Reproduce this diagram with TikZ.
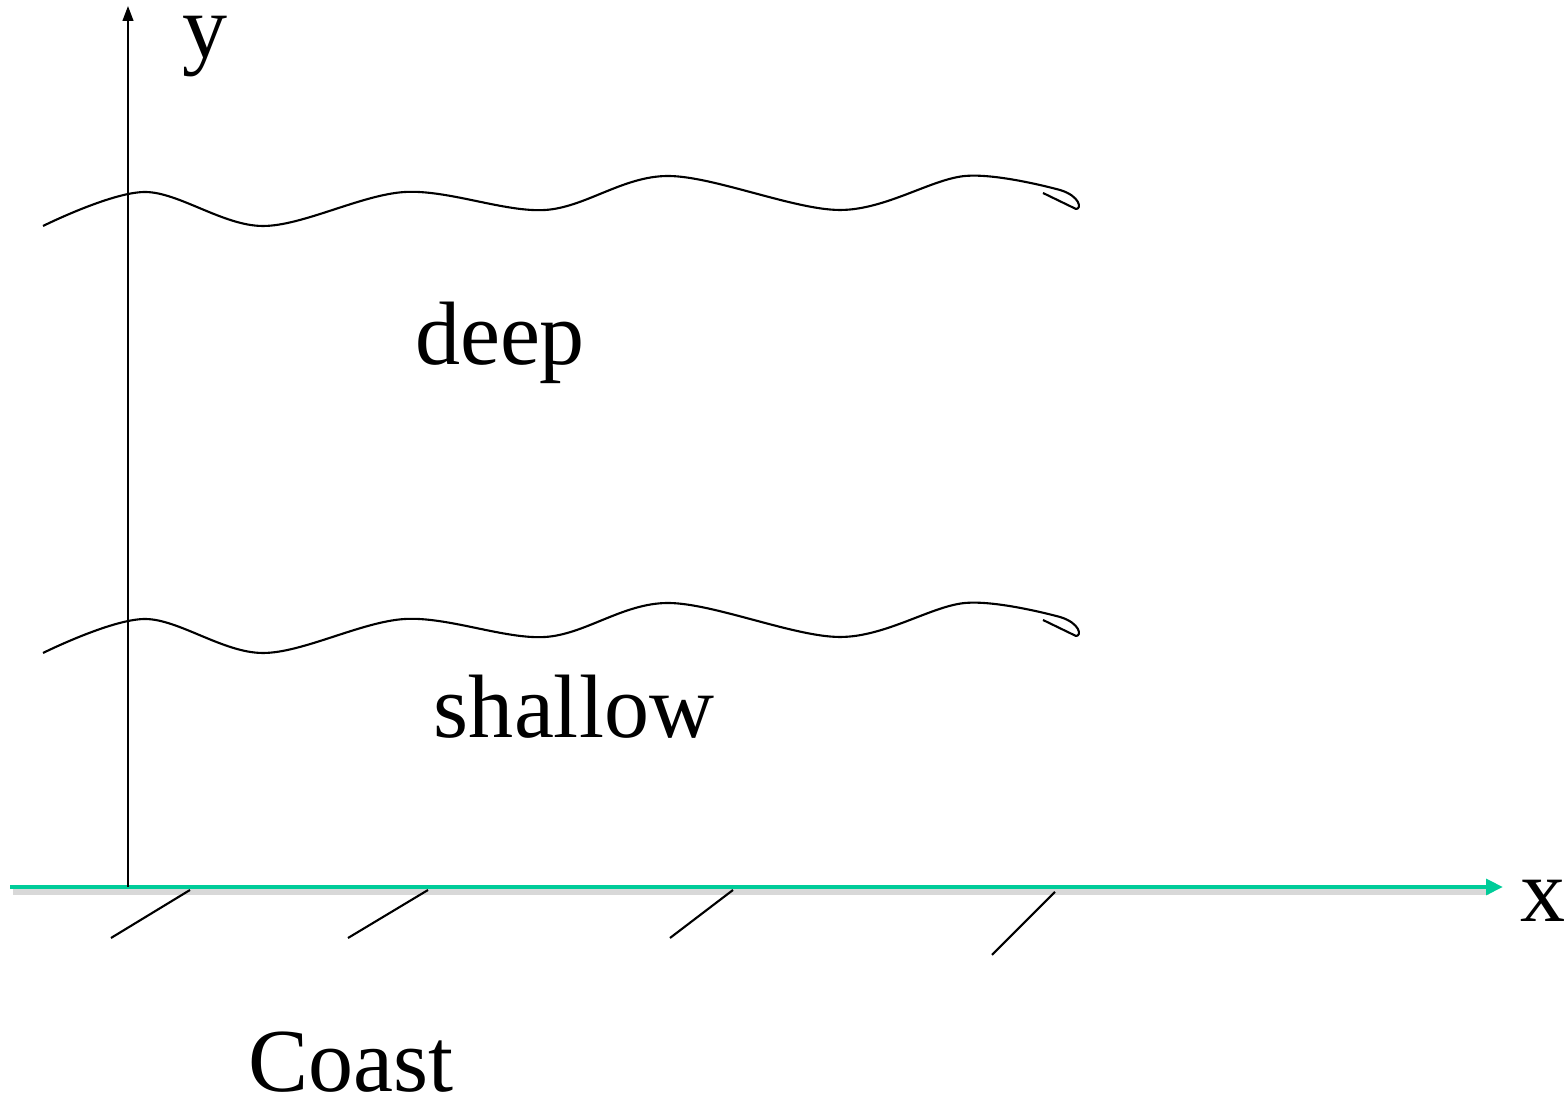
\documentclass[tikz,border=0pt]{standalone}
\usepackage{fontspec}
\setmainfont{Liberation Serif}
\usepackage{tikz}
\usetikzlibrary{arrows.meta,positioning,calc}
\definecolor{coastgreen}{RGB}{0,204,153}

\begin{document}
\begin{tikzpicture}[x=0.01cm,y=-0.01cm,>=Stealth,
  lbl/.style={font=\fontsize{25.6}{30}\selectfont,inner sep=0pt,anchor=base},
  wave/.style={line width=0.6pt,line join=round},
  hatch/.style={line width=0.6pt}]
  \useasboundingbox (0,0) rectangle (1568,1101);
  % axes
  \coordinate (O) at (128,887);
  \coordinate (ytop) at (128,6);
  \coordinate (cl) at (10,887);
  \coordinate (cr) at (1503,887);
  \draw[gray!60,opacity=0.5,line width=2pt] ($(cl)+(3,4)$) -- ($(cr)+(-14,4)$);
  \draw[-{Triangle[length=4.8pt,width=4.4pt]},coastgreen,line width=1.4pt] (cl) -- (cr);
  \draw[-{Triangle[length=4.2pt,width=3pt]},line width=0.6pt] (O) -- (ytop);
  \node[lbl] (ylab) at (205,58) {y};
  \node[lbl] (xlab) at (1543,922) {x};
  % depth contours
  \foreach \dy in {0,427}{
    \begin{scope}[yshift=-\dy*0.01cm]
      \draw[wave] plot[smooth,tension=0.55] coordinates
        {(43,226) (145,192) (263,226) (405,192) (545,210) (668,176) (840,210) (965,176) (1060,190)}
        .. controls (1080,196) and (1082,209) .. (1076,209) -- (1043,193);
    \end{scope}
  }
  \node[lbl] (deep) at (500,365) {deep};
  \node[lbl] (shallow) at (574,738) {shallow};
  % coast hatching
  \draw[hatch] (190,890) -- (111,938);
  \draw[hatch] (428,890) -- (348,938);
  \draw[hatch] (733,890) -- (670,938);
  \draw[hatch] (1055,892) -- (992,955);
  \node[lbl] (coast) at (351,1092) {Coast};
\end{tikzpicture}
\end{document}
